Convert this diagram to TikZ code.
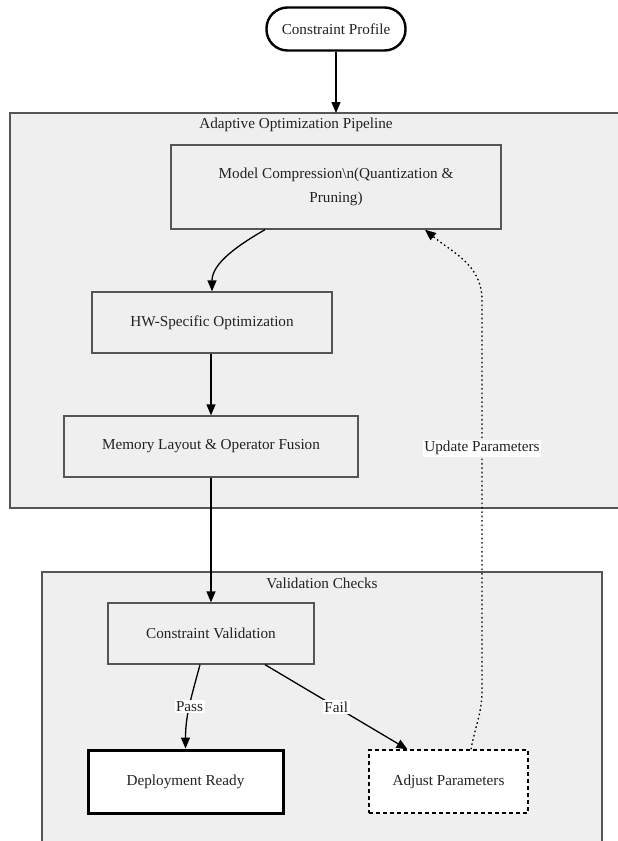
\documentclass[tikz,border=0pt]{standalone}
\usepackage{fontspec}
\setmainfont{Liberation Serif}
\usetikzlibrary{arrows.meta,positioning}

\definecolor{panelgray}{HTML}{EFEFEF}
\definecolor{edgegray}{HTML}{555555}
\definecolor{inkgray}{HTML}{222222}

\tikzset{
  every node/.style={font=\fontsize{15.2}{24}\selectfont, text=inkgray},
  panel/.style={draw=edgegray, fill=panelgray, line width=1.4pt},
  stagebox/.style={draw=edgegray, fill=panelgray, line width=1.3pt, inner sep=0pt, align=center},
  startbox/.style={draw=black, fill=white, line width=2.4pt, rounded corners=21pt, inner sep=0pt},
  readybox/.style={draw=black, fill=white, line width=3pt, inner sep=0pt},
  retrybox/.style={draw=black, fill=white, line width=1.3pt, dashed, dash pattern=on 4pt off 3pt, inner sep=0pt},
  flow/.style={draw=black, line width=1.3pt, -{Triangle[length=11pt,width=9pt]}},
  feedback/.style={draw=black, line width=1.3pt, dash pattern=on 1.6pt off 2.8pt, -{Triangle[length=11pt,width=9pt]}},
  edgelabel/.style={fill=white, inner sep=1.5pt},
  paneltitle/.style={inner sep=0pt}
}

\begin{document}
\begin{tikzpicture}[x=1pt, y=-1pt]
  \useasboundingbox (0,0) rectangle (618,841);
  \fill[white] (0,0) rectangle (618,841);

  % cluster panels
  \draw[panel] (10,113) rectangle (630,508);
  \coordinate (pipetop) at (336,113);
  \node[paneltitle] (pipetitle) at (296,125) {Adaptive Optimization Pipeline};

  \draw[panel] (42,572) rectangle (602,860);
  \node[paneltitle] (valtitle) at (322,583) {Validation Checks};

  % entry node
  \node[startbox, minimum width=139pt, minimum height=43pt] (profile) at (336,29) {Constraint Profile};

  % optimization stages
  \node[stagebox, minimum width=330pt, minimum height=84pt] (compress) at (336,187)
    {Model Compression\textbackslash n(Quantization \&\\Pruning)};
  \node[stagebox, minimum width=240pt, minimum height=61pt] (hwopt) at (212,322.5) {HW-Specific Optimization};
  \node[stagebox, minimum width=294pt, minimum height=61pt] (memlayout) at (211,446.5) {Memory Layout \& Operator Fusion};

  % validation stages
  \node[stagebox, minimum width=206pt, minimum height=61pt] (validate) at (211,633.5) {Constraint Validation};
  \node[readybox, minimum width=195pt, minimum height=63pt] (ready) at (185.5,781.5) {Deployment Ready};
  \node[retrybox, minimum width=159pt, minimum height=63pt] (adjust) at (448.5,781.5) {Adjust Parameters};

  % connectors
  \draw[flow] (profile.south) -- (pipetop);
  \draw[flow] ([xshift=-71pt]compress.south) to[out=-150, in=90, looseness=0.9] (hwopt.north);
  \draw[flow] (hwopt.south -| memlayout.north) -- (memlayout.north);
  \draw[flow] (memlayout.south) -- (validate.north);
  \draw[flow] ([xshift=-11pt]validate.south) to[out=-105, in=90] node[edgelabel, pos=0.5] {Pass} (ready.north);
  \draw[flow] ([xshift=54pt]validate.south) -- node[edgelabel, pos=0.5] {Fail} ([xshift=-41pt]adjust.north);

  % feedback loop
  \coordinate (loopbottom) at (482,690);
  \coordinate (looptop) at (482,300);
  \draw[feedback] ([xshift=22.5pt]adjust.north) to[out=80, in=-90] (loopbottom)
    -- node[edgelabel, pos=0.62] {Update Parameters} (looptop)
    to[out=90, in=-40] ([xshift=89pt]compress.south);
\end{tikzpicture}
\end{document}
